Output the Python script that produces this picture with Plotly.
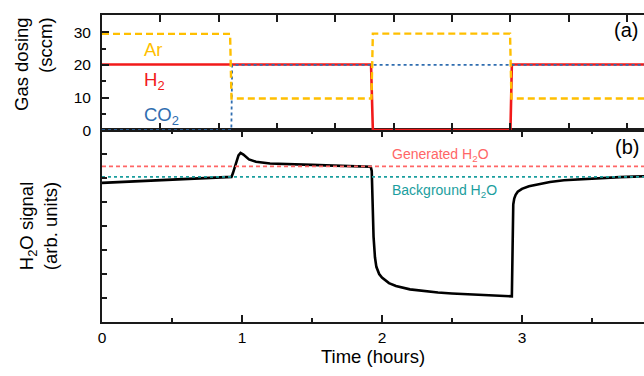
import plotly.graph_objects as go

# ---- data (hours) ----
ar_t = [0, 0.915, 0.925, 1.925, 1.935, 2.915, 2.925, 3.9]
ar_v = [29.5, 29.5, 9.7, 9.7, 29.6, 29.6, 9.7, 9.7]
h2_t = [0, 1.922, 1.935, 2.918, 2.928, 3.9]
h2_v = [20.1, 20.1, 0, 0, 20.1, 20.1]
co2_t = [0, 0.924, 0.93, 3.9]
co2_v = [0, 0, 20, 20]

h2o_t = [0, 0.2, 0.4, 0.6, 0.8, 0.925, 0.935, 0.955, 0.975, 0.99, 1.01, 1.05,
         1.1, 1.2, 1.3, 1.4, 1.5, 1.6, 1.7, 1.8, 1.9, 1.92, 1.927, 1.935, 1.94,
         1.95, 1.96, 1.98, 2.0, 2.05, 2.1, 2.2, 2.3, 2.4, 2.5, 2.6, 2.7, 2.8,
         2.9, 2.928, 2.933, 2.938, 2.945, 2.955, 2.97, 3.0, 3.05, 3.1, 3.2, 3.3,
         3.4, 3.5, 3.6, 3.7, 3.8, 3.9]
h2o_v = [5.80, 5.85, 5.91, 5.96, 6.01, 6.05, 6.20, 6.60, 6.95, 7.05, 6.98, 6.78,
         6.68, 6.61, 6.58, 6.56, 6.55, 6.53, 6.52, 6.50, 6.48, 6.47, 6.3, 4.5, 3.55,
         2.7, 2.3, 2.0, 1.85, 1.62, 1.50, 1.36, 1.29, 1.23, 1.19, 1.16, 1.13, 1.10,
         1.08, 1.07, 3.0, 4.9, 5.15, 5.30, 5.43, 5.55, 5.66, 5.73, 5.84, 5.91,
         5.95, 5.98, 6.01, 6.04, 6.06, 6.08]

generated_level = 6.49
background_level = 6.05

x_major = [0, 1, 2, 3]
x_major_labels = ["0", "1", "2", "3"]
top_tick_minutes = list(range(0, 250, 25))

FONT = "Arial, Liberation Sans, sans-serif"
GOLD = "#FFBF00"
RED = "#F21A1A"
BLUE = "#2F6DB0"
SALMON = "#FF6666"
TEAL = "#1B9E9E"
AX = "#1a1a1a"

fig = go.Figure()

# bottom panel
fig.add_trace(go.Scatter(x=h2o_t, y=h2o_v, mode="lines",
                         line=dict(color="black", width=2.6),
                         xaxis="x", yaxis="y", showlegend=False))
fig.add_trace(go.Scatter(x=[0, 3.9], y=[generated_level] * 2, mode="lines",
                         line=dict(color=SALMON, width=1.6, dash="4px,3px"),
                         xaxis="x", yaxis="y", showlegend=False))
fig.add_trace(go.Scatter(x=[0, 3.9], y=[background_level] * 2, mode="lines",
                         line=dict(color=TEAL, width=1.6, dash="dot"),
                         xaxis="x", yaxis="y", showlegend=False))

# top panel
fig.add_trace(go.Scatter(x=h2_t, y=h2_v, mode="lines",
                         line=dict(color=RED, width=2.6),
                         xaxis="x2", yaxis="y2", showlegend=False))
fig.add_trace(go.Scatter(x=co2_t, y=co2_v, mode="lines",
                         line=dict(color=BLUE, width=1.8, dash="dot"),
                         xaxis="x2", yaxis="y2", showlegend=False))
fig.add_trace(go.Scatter(x=ar_t, y=ar_v, mode="lines",
                         line=dict(color=GOLD, width=2.4, dash="7px,4px"),
                         xaxis="x2", yaxis="y2", showlegend=False))

XR = [0, 3.872]
split = 0.625

fig.update_layout(
    width=644, height=376,
    margin=dict(l=102, r=0, t=15, b=54),
    paper_bgcolor="white", plot_bgcolor="white",
    font=dict(family=FONT, color="black", size=15.5),
    xaxis=dict(domain=[0, 1], range=XR, anchor="y",
               tickmode="array", tickvals=x_major, ticktext=x_major_labels,
               ticks="inside", ticklen=7, tickwidth=1.5, tickcolor=AX,
               minor=dict(dtick=0.5, tick0=0, ticks="inside", ticklen=4,
                          tickwidth=1.5, tickcolor=AX),
               showline=True, linecolor=AX, linewidth=1.8, mirror="ticks",
               showgrid=False, zeroline=False,
               tickfont=dict(size=15.5),
               title=dict(text="Time (hours)", font=dict(size=18.5), standoff=6)),
    yaxis=dict(domain=[0, split], range=[0, 8], anchor="x",
               tickmode="linear", tick0=0, dtick=1, showticklabels=False,
               ticks="inside", ticklen=5, tickwidth=1.5, tickcolor=AX,
               showline=True, linecolor=AX, linewidth=1.8,
               showgrid=False, zeroline=False),
    xaxis2=dict(domain=[0, 1], range=XR, anchor="y2",
                tickmode="array", tickvals=[m / 60 for m in top_tick_minutes],
                showticklabels=False,
                ticks="inside", ticklen=7, tickwidth=1.5, tickcolor=AX,
                showline=True, linecolor=AX, linewidth=1.8, mirror="ticks",
                showgrid=False, zeroline=False),
    yaxis2=dict(domain=[split, 1], range=[0, 35.3], anchor="x2",
                tickmode="array", tickvals=[0, 10, 20, 30],
                ticks="inside", ticklen=7, tickwidth=1.5, tickcolor=AX,
                minor=dict(tickvals=[5, 15, 25, 35], ticks="inside", ticklen=4,
                           tickwidth=1.5, tickcolor=AX),
                ticklabelstandoff=6,
                showline=True, linecolor=AX, linewidth=1.8,
                showgrid=False, zeroline=False,
                tickfont=dict(size=15.5)),
)

ann = []
# y-axis titles
ann.append(dict(text="Gas dosing<br>(sccm)", textangle=-90, align="right",
                xref="paper", yref="paper", x=(33 - 102) / 542, y=1.0,
                xanchor="center", yanchor="top", showarrow=False,
                font=dict(size=18.5)))
ann.append(dict(text="H<sub>2</sub>O signal<br>(arb. units)", textangle=-90,
                align="center", xref="paper", yref="paper",
                x=(38 - 102) / 542, y=(321.7 - 226) / 306.7,
                xanchor="center", yanchor="middle", showarrow=False,
                font=dict(size=18.5)))
# gas labels
ann.append(dict(text="Ar", x=0.288, y=24.8, xref="x2", yref="y2",
                xanchor="left", yanchor="middle", showarrow=False,
                font=dict(size=18.5, color=GOLD)))
ann.append(dict(text="H<sub>2</sub>", x=0.288, y=15.0, xref="x2", yref="y2",
                xanchor="left", yanchor="middle", showarrow=False,
                font=dict(size=18.5, color=RED)))
ann.append(dict(text="CO<sub>2</sub>", x=0.288, y=4.2, xref="x2", yref="y2",
                xanchor="left", yanchor="middle", showarrow=False,
                font=dict(size=18.5, color=BLUE)))
# panel labels
ann.append(dict(text="(a)", x=3.74, y=30.7, xref="x2", yref="y2",
                xanchor="center", yanchor="middle", showarrow=False,
                font=dict(size=20)))
ann.append(dict(text="(b)", x=3.75, y=7.30, xref="x", yref="y",
                xanchor="center", yanchor="middle", showarrow=False,
                font=dict(size=20)))
# level labels
ann.append(dict(text="Generated H<sub>2</sub>O", x=2.06, y=6.95, xref="x", yref="y",
                xanchor="left", yanchor="middle", showarrow=False,
                font=dict(size=14, color=SALMON)))
ann.append(dict(text="Background H<sub>2</sub>O", x=2.06, y=5.45, xref="x", yref="y",
                xanchor="left", yanchor="middle", showarrow=False,
                font=dict(size=14, color=TEAL)))
fig.update_layout(annotations=ann)

fig.write_html("out.html")
